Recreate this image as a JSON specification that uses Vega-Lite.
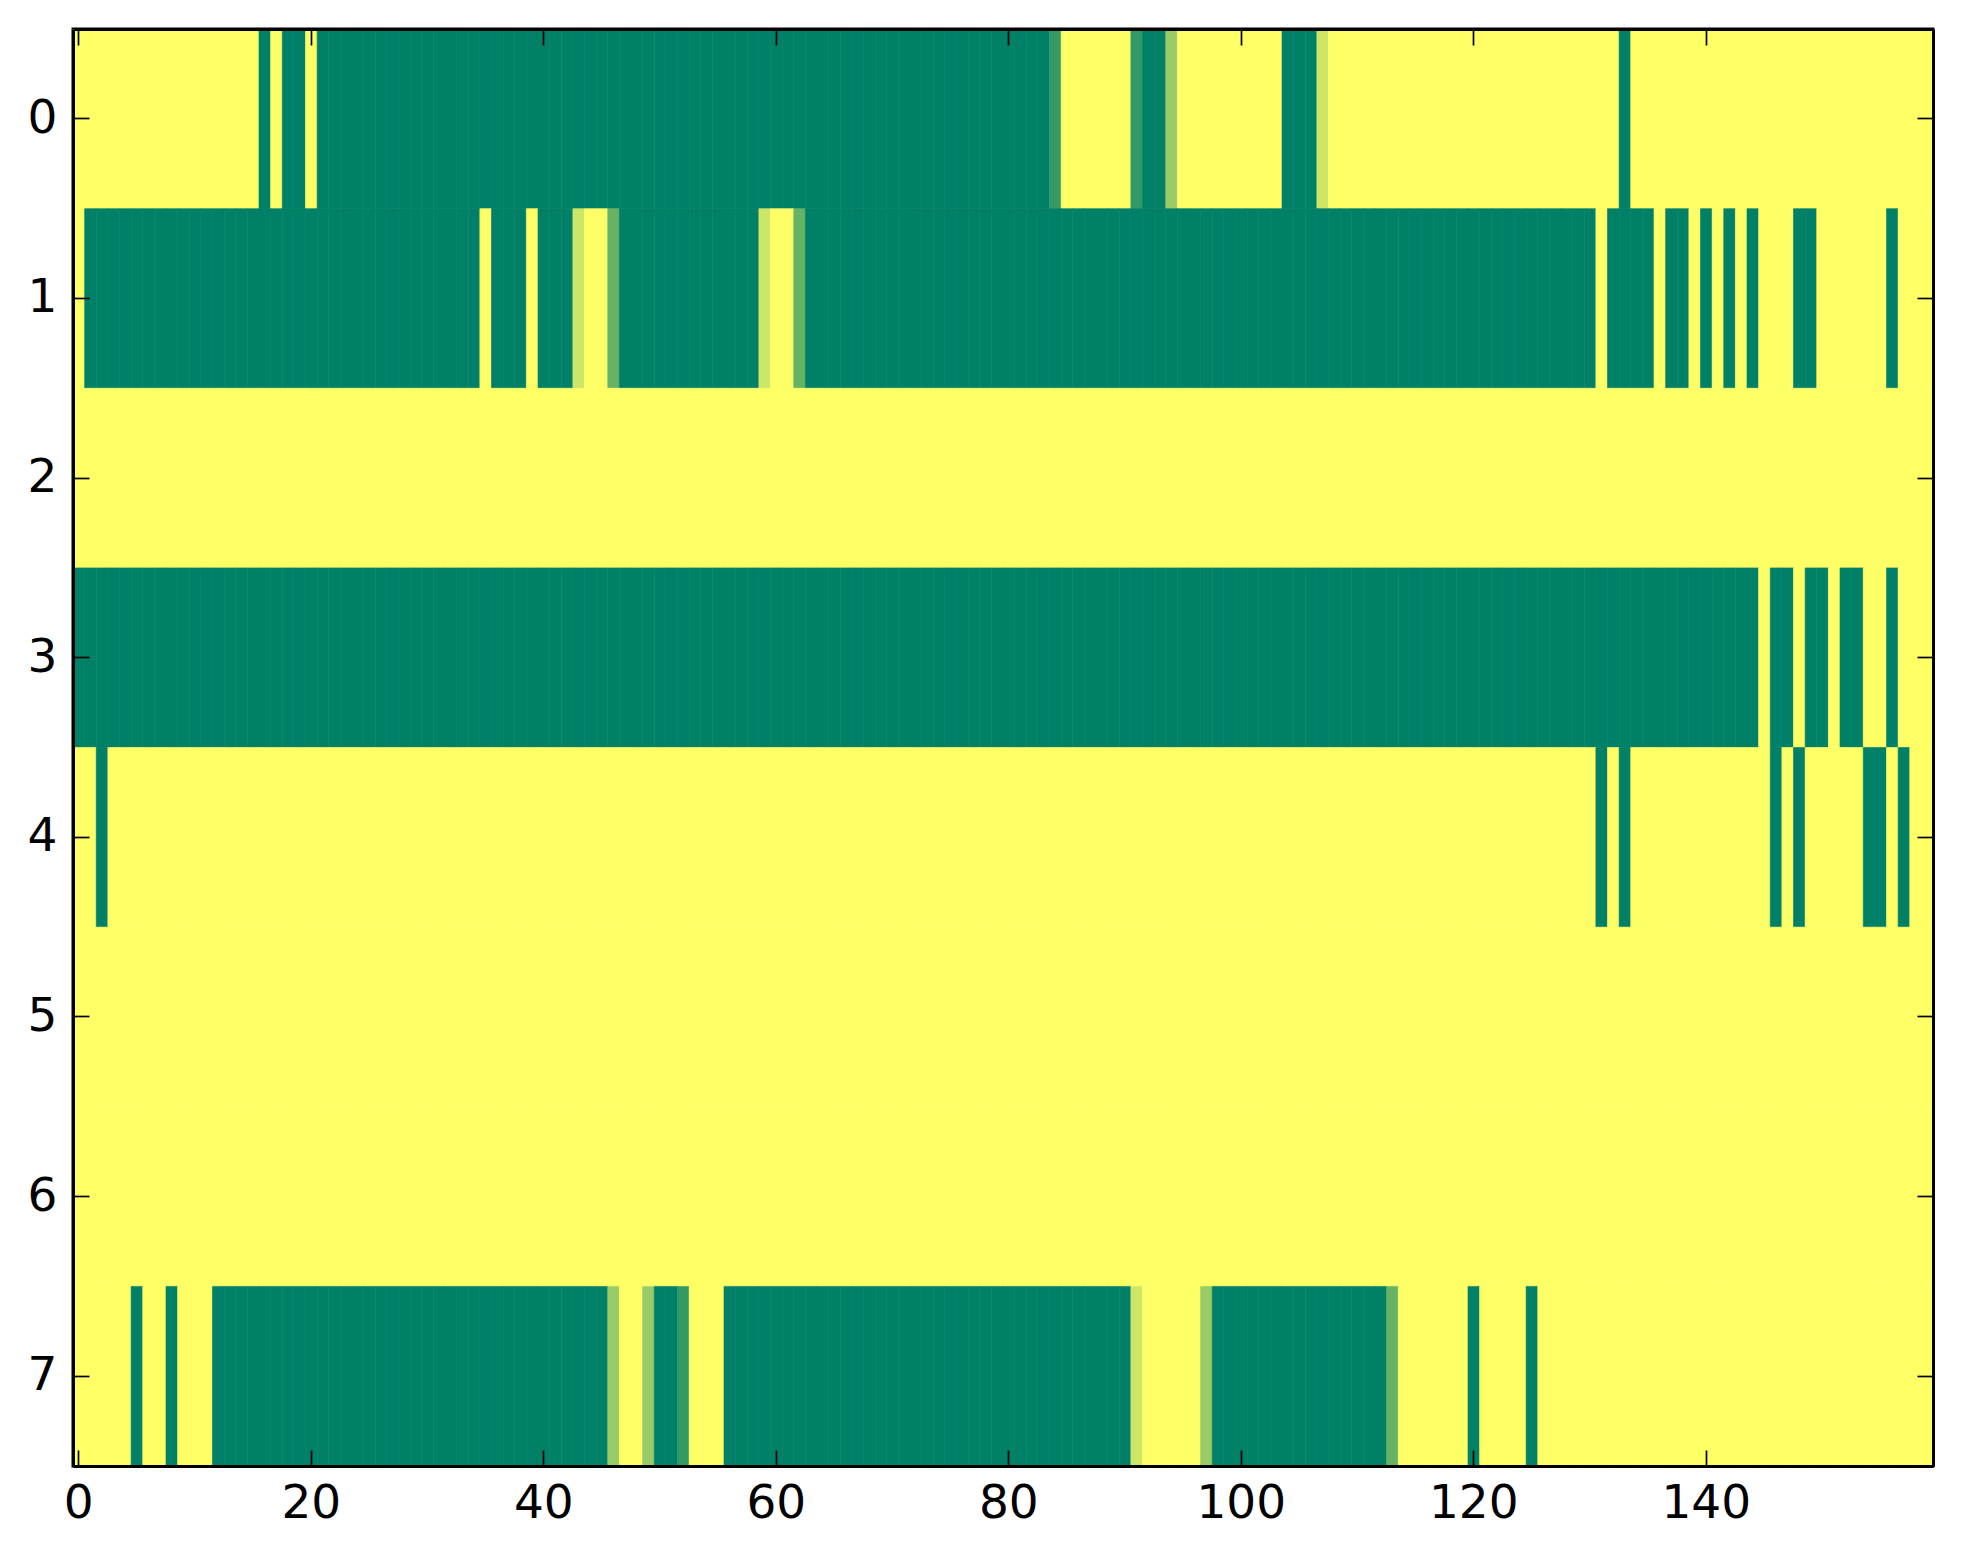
{
  "$schema": "https://vega.github.io/schema/vega-lite/v6.json",
  "width": 1860,
  "height": 1437,
  "autosize": {"type": "none"},
  "padding": {"left": 73, "top": 29, "right": 30, "bottom": 98},
  "background": "white",
  "config": {
    "view": {"stroke": "black", "strokeWidth": 3},
    "axis": {
      "labelFont": "DejaVu Sans",
      "labelFontSize": 47,
      "labelColor": "black",
      "tickColor": "black",
      "tickWidth": 1.7,
      "tickSize": -16,
      "domain": true,
      "domainColor": "black",
      "domainWidth": 3,
      "grid": false,
      "title": null
    }
  },
  "data": {
    "values": [
      {"row":0,"col":0,"value":0},{"row":0,"col":1,"value":0},{"row":0,"col":2,"value":0},{"row":0,"col":3,"value":0},{"row":0,"col":4,"value":0},{"row":0,"col":5,"value":0},{"row":0,"col":6,"value":0},{"row":0,"col":7,"value":0},{"row":0,"col":8,"value":0},{"row":0,"col":9,"value":0},
      {"row":0,"col":10,"value":0},{"row":0,"col":11,"value":0},{"row":0,"col":12,"value":0},{"row":0,"col":13,"value":0},{"row":0,"col":14,"value":0},{"row":0,"col":15,"value":0},{"row":0,"col":16,"value":1},{"row":0,"col":17,"value":0},{"row":0,"col":18,"value":1},{"row":0,"col":19,"value":1},
      {"row":0,"col":20,"value":0},{"row":0,"col":21,"value":1},{"row":0,"col":22,"value":1},{"row":0,"col":23,"value":1},{"row":0,"col":24,"value":1},{"row":0,"col":25,"value":1},{"row":0,"col":26,"value":1},{"row":0,"col":27,"value":1},{"row":0,"col":28,"value":1},{"row":0,"col":29,"value":1},
      {"row":0,"col":30,"value":1},{"row":0,"col":31,"value":1},{"row":0,"col":32,"value":1},{"row":0,"col":33,"value":1},{"row":0,"col":34,"value":1},{"row":0,"col":35,"value":1},{"row":0,"col":36,"value":1},{"row":0,"col":37,"value":1},{"row":0,"col":38,"value":1},{"row":0,"col":39,"value":1},
      {"row":0,"col":40,"value":1},{"row":0,"col":41,"value":1},{"row":0,"col":42,"value":1},{"row":0,"col":43,"value":1},{"row":0,"col":44,"value":1},{"row":0,"col":45,"value":1},{"row":0,"col":46,"value":1},{"row":0,"col":47,"value":1},{"row":0,"col":48,"value":1},{"row":0,"col":49,"value":1},
      {"row":0,"col":50,"value":1},{"row":0,"col":51,"value":1},{"row":0,"col":52,"value":1},{"row":0,"col":53,"value":1},{"row":0,"col":54,"value":1},{"row":0,"col":55,"value":1},{"row":0,"col":56,"value":1},{"row":0,"col":57,"value":1},{"row":0,"col":58,"value":1},{"row":0,"col":59,"value":1},
      {"row":0,"col":60,"value":1},{"row":0,"col":61,"value":1},{"row":0,"col":62,"value":1},{"row":0,"col":63,"value":1},{"row":0,"col":64,"value":1},{"row":0,"col":65,"value":1},{"row":0,"col":66,"value":1},{"row":0,"col":67,"value":1},{"row":0,"col":68,"value":1},{"row":0,"col":69,"value":1},
      {"row":0,"col":70,"value":1},{"row":0,"col":71,"value":1},{"row":0,"col":72,"value":1},{"row":0,"col":73,"value":1},{"row":0,"col":74,"value":1},{"row":0,"col":75,"value":1},{"row":0,"col":76,"value":1},{"row":0,"col":77,"value":1},{"row":0,"col":78,"value":1},{"row":0,"col":79,"value":1},
      {"row":0,"col":80,"value":1},{"row":0,"col":81,"value":1},{"row":0,"col":82,"value":1},{"row":0,"col":83,"value":1},{"row":0,"col":84,"value":0.8},{"row":0,"col":85,"value":0},{"row":0,"col":86,"value":0},{"row":0,"col":87,"value":0},{"row":0,"col":88,"value":0},{"row":0,"col":89,"value":0},
      {"row":0,"col":90,"value":0},{"row":0,"col":91,"value":0.8},{"row":0,"col":92,"value":1},{"row":0,"col":93,"value":1},{"row":0,"col":94,"value":0.4},{"row":0,"col":95,"value":0},{"row":0,"col":96,"value":0},{"row":0,"col":97,"value":0},{"row":0,"col":98,"value":0},{"row":0,"col":99,"value":0},
      {"row":0,"col":100,"value":0},{"row":0,"col":101,"value":0},{"row":0,"col":102,"value":0},{"row":0,"col":103,"value":0},{"row":0,"col":104,"value":1},{"row":0,"col":105,"value":1},{"row":0,"col":106,"value":1},{"row":0,"col":107,"value":0.2},{"row":0,"col":108,"value":0},{"row":0,"col":109,"value":0},
      {"row":0,"col":110,"value":0},{"row":0,"col":111,"value":0},{"row":0,"col":112,"value":0},{"row":0,"col":113,"value":0},{"row":0,"col":114,"value":0},{"row":0,"col":115,"value":0},{"row":0,"col":116,"value":0},{"row":0,"col":117,"value":0},{"row":0,"col":118,"value":0},{"row":0,"col":119,"value":0},
      {"row":0,"col":120,"value":0},{"row":0,"col":121,"value":0},{"row":0,"col":122,"value":0},{"row":0,"col":123,"value":0},{"row":0,"col":124,"value":0},{"row":0,"col":125,"value":0},{"row":0,"col":126,"value":0},{"row":0,"col":127,"value":0},{"row":0,"col":128,"value":0},{"row":0,"col":129,"value":0},
      {"row":0,"col":130,"value":0},{"row":0,"col":131,"value":0},{"row":0,"col":132,"value":0},{"row":0,"col":133,"value":1},{"row":0,"col":134,"value":0},{"row":0,"col":135,"value":0},{"row":0,"col":136,"value":0},{"row":0,"col":137,"value":0},{"row":0,"col":138,"value":0},{"row":0,"col":139,"value":0},
      {"row":0,"col":140,"value":0},{"row":0,"col":141,"value":0},{"row":0,"col":142,"value":0},{"row":0,"col":143,"value":0},{"row":0,"col":144,"value":0},{"row":0,"col":145,"value":0},{"row":0,"col":146,"value":0},{"row":0,"col":147,"value":0},{"row":0,"col":148,"value":0},{"row":0,"col":149,"value":0},
      {"row":0,"col":150,"value":0},{"row":0,"col":151,"value":0},{"row":0,"col":152,"value":0},{"row":0,"col":153,"value":0},{"row":0,"col":154,"value":0},{"row":0,"col":155,"value":0},{"row":0,"col":156,"value":0},{"row":0,"col":157,"value":0},{"row":0,"col":158,"value":0},{"row":0,"col":159,"value":0},

      {"row":1,"col":0,"value":0},{"row":1,"col":1,"value":1},{"row":1,"col":2,"value":1},{"row":1,"col":3,"value":1},{"row":1,"col":4,"value":1},{"row":1,"col":5,"value":1},{"row":1,"col":6,"value":1},{"row":1,"col":7,"value":1},{"row":1,"col":8,"value":1},{"row":1,"col":9,"value":1},
      {"row":1,"col":10,"value":1},{"row":1,"col":11,"value":1},{"row":1,"col":12,"value":1},{"row":1,"col":13,"value":1},{"row":1,"col":14,"value":1},{"row":1,"col":15,"value":1},{"row":1,"col":16,"value":1},{"row":1,"col":17,"value":1},{"row":1,"col":18,"value":1},{"row":1,"col":19,"value":1},
      {"row":1,"col":20,"value":1},{"row":1,"col":21,"value":1},{"row":1,"col":22,"value":1},{"row":1,"col":23,"value":1},{"row":1,"col":24,"value":1},{"row":1,"col":25,"value":1},{"row":1,"col":26,"value":1},{"row":1,"col":27,"value":1},{"row":1,"col":28,"value":1},{"row":1,"col":29,"value":1},
      {"row":1,"col":30,"value":1},{"row":1,"col":31,"value":1},{"row":1,"col":32,"value":1},{"row":1,"col":33,"value":1},{"row":1,"col":34,"value":1},{"row":1,"col":35,"value":0},{"row":1,"col":36,"value":1},{"row":1,"col":37,"value":1},{"row":1,"col":38,"value":1},{"row":1,"col":39,"value":0},
      {"row":1,"col":40,"value":1},{"row":1,"col":41,"value":1},{"row":1,"col":42,"value":1},{"row":1,"col":43,"value":0.2},{"row":1,"col":44,"value":0},{"row":1,"col":45,"value":0},{"row":1,"col":46,"value":0.6},{"row":1,"col":47,"value":1},{"row":1,"col":48,"value":1},{"row":1,"col":49,"value":1},
      {"row":1,"col":50,"value":1},{"row":1,"col":51,"value":1},{"row":1,"col":52,"value":1},{"row":1,"col":53,"value":1},{"row":1,"col":54,"value":1},{"row":1,"col":55,"value":1},{"row":1,"col":56,"value":1},{"row":1,"col":57,"value":1},{"row":1,"col":58,"value":1},{"row":1,"col":59,"value":0.2},
      {"row":1,"col":60,"value":0},{"row":1,"col":61,"value":0},{"row":1,"col":62,"value":0.6},{"row":1,"col":63,"value":1},{"row":1,"col":64,"value":1},{"row":1,"col":65,"value":1},{"row":1,"col":66,"value":1},{"row":1,"col":67,"value":1},{"row":1,"col":68,"value":1},{"row":1,"col":69,"value":1},
      {"row":1,"col":70,"value":1},{"row":1,"col":71,"value":1},{"row":1,"col":72,"value":1},{"row":1,"col":73,"value":1},{"row":1,"col":74,"value":1},{"row":1,"col":75,"value":1},{"row":1,"col":76,"value":1},{"row":1,"col":77,"value":1},{"row":1,"col":78,"value":1},{"row":1,"col":79,"value":1},
      {"row":1,"col":80,"value":1},{"row":1,"col":81,"value":1},{"row":1,"col":82,"value":1},{"row":1,"col":83,"value":1},{"row":1,"col":84,"value":1},{"row":1,"col":85,"value":1},{"row":1,"col":86,"value":1},{"row":1,"col":87,"value":1},{"row":1,"col":88,"value":1},{"row":1,"col":89,"value":1},
      {"row":1,"col":90,"value":1},{"row":1,"col":91,"value":1},{"row":1,"col":92,"value":1},{"row":1,"col":93,"value":1},{"row":1,"col":94,"value":1},{"row":1,"col":95,"value":1},{"row":1,"col":96,"value":1},{"row":1,"col":97,"value":1},{"row":1,"col":98,"value":1},{"row":1,"col":99,"value":1},
      {"row":1,"col":100,"value":1},{"row":1,"col":101,"value":1},{"row":1,"col":102,"value":1},{"row":1,"col":103,"value":1},{"row":1,"col":104,"value":1},{"row":1,"col":105,"value":1},{"row":1,"col":106,"value":1},{"row":1,"col":107,"value":1},{"row":1,"col":108,"value":1},{"row":1,"col":109,"value":1},
      {"row":1,"col":110,"value":1},{"row":1,"col":111,"value":1},{"row":1,"col":112,"value":1},{"row":1,"col":113,"value":1},{"row":1,"col":114,"value":1},{"row":1,"col":115,"value":1},{"row":1,"col":116,"value":1},{"row":1,"col":117,"value":1},{"row":1,"col":118,"value":1},{"row":1,"col":119,"value":1},
      {"row":1,"col":120,"value":1},{"row":1,"col":121,"value":1},{"row":1,"col":122,"value":1},{"row":1,"col":123,"value":1},{"row":1,"col":124,"value":1},{"row":1,"col":125,"value":1},{"row":1,"col":126,"value":1},{"row":1,"col":127,"value":1},{"row":1,"col":128,"value":1},{"row":1,"col":129,"value":1},
      {"row":1,"col":130,"value":1},{"row":1,"col":131,"value":0},{"row":1,"col":132,"value":1},{"row":1,"col":133,"value":1},{"row":1,"col":134,"value":1},{"row":1,"col":135,"value":1},{"row":1,"col":136,"value":0},{"row":1,"col":137,"value":1},{"row":1,"col":138,"value":1},{"row":1,"col":139,"value":0},
      {"row":1,"col":140,"value":1},{"row":1,"col":141,"value":0},{"row":1,"col":142,"value":1},{"row":1,"col":143,"value":0},{"row":1,"col":144,"value":1},{"row":1,"col":145,"value":0},{"row":1,"col":146,"value":0},{"row":1,"col":147,"value":0},{"row":1,"col":148,"value":1},{"row":1,"col":149,"value":1},
      {"row":1,"col":150,"value":0},{"row":1,"col":151,"value":0},{"row":1,"col":152,"value":0},{"row":1,"col":153,"value":0},{"row":1,"col":154,"value":0},{"row":1,"col":155,"value":0},{"row":1,"col":156,"value":1},{"row":1,"col":157,"value":0},{"row":1,"col":158,"value":0},{"row":1,"col":159,"value":0},

      {"row":2,"col":0,"value":0},{"row":2,"col":1,"value":0},{"row":2,"col":2,"value":0},{"row":2,"col":3,"value":0},{"row":2,"col":4,"value":0},{"row":2,"col":5,"value":0},{"row":2,"col":6,"value":0},{"row":2,"col":7,"value":0},{"row":2,"col":8,"value":0},{"row":2,"col":9,"value":0},
      {"row":2,"col":10,"value":0},{"row":2,"col":11,"value":0},{"row":2,"col":12,"value":0},{"row":2,"col":13,"value":0},{"row":2,"col":14,"value":0},{"row":2,"col":15,"value":0},{"row":2,"col":16,"value":0},{"row":2,"col":17,"value":0},{"row":2,"col":18,"value":0},{"row":2,"col":19,"value":0},
      {"row":2,"col":20,"value":0},{"row":2,"col":21,"value":0},{"row":2,"col":22,"value":0},{"row":2,"col":23,"value":0},{"row":2,"col":24,"value":0},{"row":2,"col":25,"value":0},{"row":2,"col":26,"value":0},{"row":2,"col":27,"value":0},{"row":2,"col":28,"value":0},{"row":2,"col":29,"value":0},
      {"row":2,"col":30,"value":0},{"row":2,"col":31,"value":0},{"row":2,"col":32,"value":0},{"row":2,"col":33,"value":0},{"row":2,"col":34,"value":0},{"row":2,"col":35,"value":0},{"row":2,"col":36,"value":0},{"row":2,"col":37,"value":0},{"row":2,"col":38,"value":0},{"row":2,"col":39,"value":0},
      {"row":2,"col":40,"value":0},{"row":2,"col":41,"value":0},{"row":2,"col":42,"value":0},{"row":2,"col":43,"value":0},{"row":2,"col":44,"value":0},{"row":2,"col":45,"value":0},{"row":2,"col":46,"value":0},{"row":2,"col":47,"value":0},{"row":2,"col":48,"value":0},{"row":2,"col":49,"value":0},
      {"row":2,"col":50,"value":0},{"row":2,"col":51,"value":0},{"row":2,"col":52,"value":0},{"row":2,"col":53,"value":0},{"row":2,"col":54,"value":0},{"row":2,"col":55,"value":0},{"row":2,"col":56,"value":0},{"row":2,"col":57,"value":0},{"row":2,"col":58,"value":0},{"row":2,"col":59,"value":0},
      {"row":2,"col":60,"value":0},{"row":2,"col":61,"value":0},{"row":2,"col":62,"value":0},{"row":2,"col":63,"value":0},{"row":2,"col":64,"value":0},{"row":2,"col":65,"value":0},{"row":2,"col":66,"value":0},{"row":2,"col":67,"value":0},{"row":2,"col":68,"value":0},{"row":2,"col":69,"value":0},
      {"row":2,"col":70,"value":0},{"row":2,"col":71,"value":0},{"row":2,"col":72,"value":0},{"row":2,"col":73,"value":0},{"row":2,"col":74,"value":0},{"row":2,"col":75,"value":0},{"row":2,"col":76,"value":0},{"row":2,"col":77,"value":0},{"row":2,"col":78,"value":0},{"row":2,"col":79,"value":0},
      {"row":2,"col":80,"value":0},{"row":2,"col":81,"value":0},{"row":2,"col":82,"value":0},{"row":2,"col":83,"value":0},{"row":2,"col":84,"value":0},{"row":2,"col":85,"value":0},{"row":2,"col":86,"value":0},{"row":2,"col":87,"value":0},{"row":2,"col":88,"value":0},{"row":2,"col":89,"value":0},
      {"row":2,"col":90,"value":0},{"row":2,"col":91,"value":0},{"row":2,"col":92,"value":0},{"row":2,"col":93,"value":0},{"row":2,"col":94,"value":0},{"row":2,"col":95,"value":0},{"row":2,"col":96,"value":0},{"row":2,"col":97,"value":0},{"row":2,"col":98,"value":0},{"row":2,"col":99,"value":0},
      {"row":2,"col":100,"value":0},{"row":2,"col":101,"value":0},{"row":2,"col":102,"value":0},{"row":2,"col":103,"value":0},{"row":2,"col":104,"value":0},{"row":2,"col":105,"value":0},{"row":2,"col":106,"value":0},{"row":2,"col":107,"value":0},{"row":2,"col":108,"value":0},{"row":2,"col":109,"value":0},
      {"row":2,"col":110,"value":0},{"row":2,"col":111,"value":0},{"row":2,"col":112,"value":0},{"row":2,"col":113,"value":0},{"row":2,"col":114,"value":0},{"row":2,"col":115,"value":0},{"row":2,"col":116,"value":0},{"row":2,"col":117,"value":0},{"row":2,"col":118,"value":0},{"row":2,"col":119,"value":0},
      {"row":2,"col":120,"value":0},{"row":2,"col":121,"value":0},{"row":2,"col":122,"value":0},{"row":2,"col":123,"value":0},{"row":2,"col":124,"value":0},{"row":2,"col":125,"value":0},{"row":2,"col":126,"value":0},{"row":2,"col":127,"value":0},{"row":2,"col":128,"value":0},{"row":2,"col":129,"value":0},
      {"row":2,"col":130,"value":0},{"row":2,"col":131,"value":0},{"row":2,"col":132,"value":0},{"row":2,"col":133,"value":0},{"row":2,"col":134,"value":0},{"row":2,"col":135,"value":0},{"row":2,"col":136,"value":0},{"row":2,"col":137,"value":0},{"row":2,"col":138,"value":0},{"row":2,"col":139,"value":0},
      {"row":2,"col":140,"value":0},{"row":2,"col":141,"value":0},{"row":2,"col":142,"value":0},{"row":2,"col":143,"value":0},{"row":2,"col":144,"value":0},{"row":2,"col":145,"value":0},{"row":2,"col":146,"value":0},{"row":2,"col":147,"value":0},{"row":2,"col":148,"value":0},{"row":2,"col":149,"value":0},
      {"row":2,"col":150,"value":0},{"row":2,"col":151,"value":0},{"row":2,"col":152,"value":0},{"row":2,"col":153,"value":0},{"row":2,"col":154,"value":0},{"row":2,"col":155,"value":0},{"row":2,"col":156,"value":0},{"row":2,"col":157,"value":0},{"row":2,"col":158,"value":0},{"row":2,"col":159,"value":0},

      {"row":3,"col":0,"value":1},{"row":3,"col":1,"value":1},{"row":3,"col":2,"value":1},{"row":3,"col":3,"value":1},{"row":3,"col":4,"value":1},{"row":3,"col":5,"value":1},{"row":3,"col":6,"value":1},{"row":3,"col":7,"value":1},{"row":3,"col":8,"value":1},{"row":3,"col":9,"value":1},
      {"row":3,"col":10,"value":1},{"row":3,"col":11,"value":1},{"row":3,"col":12,"value":1},{"row":3,"col":13,"value":1},{"row":3,"col":14,"value":1},{"row":3,"col":15,"value":1},{"row":3,"col":16,"value":1},{"row":3,"col":17,"value":1},{"row":3,"col":18,"value":1},{"row":3,"col":19,"value":1},
      {"row":3,"col":20,"value":1},{"row":3,"col":21,"value":1},{"row":3,"col":22,"value":1},{"row":3,"col":23,"value":1},{"row":3,"col":24,"value":1},{"row":3,"col":25,"value":1},{"row":3,"col":26,"value":1},{"row":3,"col":27,"value":1},{"row":3,"col":28,"value":1},{"row":3,"col":29,"value":1},
      {"row":3,"col":30,"value":1},{"row":3,"col":31,"value":1},{"row":3,"col":32,"value":1},{"row":3,"col":33,"value":1},{"row":3,"col":34,"value":1},{"row":3,"col":35,"value":1},{"row":3,"col":36,"value":1},{"row":3,"col":37,"value":1},{"row":3,"col":38,"value":1},{"row":3,"col":39,"value":1},
      {"row":3,"col":40,"value":1},{"row":3,"col":41,"value":1},{"row":3,"col":42,"value":1},{"row":3,"col":43,"value":1},{"row":3,"col":44,"value":1},{"row":3,"col":45,"value":1},{"row":3,"col":46,"value":1},{"row":3,"col":47,"value":1},{"row":3,"col":48,"value":1},{"row":3,"col":49,"value":1},
      {"row":3,"col":50,"value":1},{"row":3,"col":51,"value":1},{"row":3,"col":52,"value":1},{"row":3,"col":53,"value":1},{"row":3,"col":54,"value":1},{"row":3,"col":55,"value":1},{"row":3,"col":56,"value":1},{"row":3,"col":57,"value":1},{"row":3,"col":58,"value":1},{"row":3,"col":59,"value":1},
      {"row":3,"col":60,"value":1},{"row":3,"col":61,"value":1},{"row":3,"col":62,"value":1},{"row":3,"col":63,"value":1},{"row":3,"col":64,"value":1},{"row":3,"col":65,"value":1},{"row":3,"col":66,"value":1},{"row":3,"col":67,"value":1},{"row":3,"col":68,"value":1},{"row":3,"col":69,"value":1},
      {"row":3,"col":70,"value":1},{"row":3,"col":71,"value":1},{"row":3,"col":72,"value":1},{"row":3,"col":73,"value":1},{"row":3,"col":74,"value":1},{"row":3,"col":75,"value":1},{"row":3,"col":76,"value":1},{"row":3,"col":77,"value":1},{"row":3,"col":78,"value":1},{"row":3,"col":79,"value":1},
      {"row":3,"col":80,"value":1},{"row":3,"col":81,"value":1},{"row":3,"col":82,"value":1},{"row":3,"col":83,"value":1},{"row":3,"col":84,"value":1},{"row":3,"col":85,"value":1},{"row":3,"col":86,"value":1},{"row":3,"col":87,"value":1},{"row":3,"col":88,"value":1},{"row":3,"col":89,"value":1},
      {"row":3,"col":90,"value":1},{"row":3,"col":91,"value":1},{"row":3,"col":92,"value":1},{"row":3,"col":93,"value":1},{"row":3,"col":94,"value":1},{"row":3,"col":95,"value":1},{"row":3,"col":96,"value":1},{"row":3,"col":97,"value":1},{"row":3,"col":98,"value":1},{"row":3,"col":99,"value":1},
      {"row":3,"col":100,"value":1},{"row":3,"col":101,"value":1},{"row":3,"col":102,"value":1},{"row":3,"col":103,"value":1},{"row":3,"col":104,"value":1},{"row":3,"col":105,"value":1},{"row":3,"col":106,"value":1},{"row":3,"col":107,"value":1},{"row":3,"col":108,"value":1},{"row":3,"col":109,"value":1},
      {"row":3,"col":110,"value":1},{"row":3,"col":111,"value":1},{"row":3,"col":112,"value":1},{"row":3,"col":113,"value":1},{"row":3,"col":114,"value":1},{"row":3,"col":115,"value":1},{"row":3,"col":116,"value":1},{"row":3,"col":117,"value":1},{"row":3,"col":118,"value":1},{"row":3,"col":119,"value":1},
      {"row":3,"col":120,"value":1},{"row":3,"col":121,"value":1},{"row":3,"col":122,"value":1},{"row":3,"col":123,"value":1},{"row":3,"col":124,"value":1},{"row":3,"col":125,"value":1},{"row":3,"col":126,"value":1},{"row":3,"col":127,"value":1},{"row":3,"col":128,"value":1},{"row":3,"col":129,"value":1},
      {"row":3,"col":130,"value":1},{"row":3,"col":131,"value":1},{"row":3,"col":132,"value":1},{"row":3,"col":133,"value":1},{"row":3,"col":134,"value":1},{"row":3,"col":135,"value":1},{"row":3,"col":136,"value":1},{"row":3,"col":137,"value":1},{"row":3,"col":138,"value":1},{"row":3,"col":139,"value":1},
      {"row":3,"col":140,"value":1},{"row":3,"col":141,"value":1},{"row":3,"col":142,"value":1},{"row":3,"col":143,"value":1},{"row":3,"col":144,"value":1},{"row":3,"col":145,"value":0},{"row":3,"col":146,"value":1},{"row":3,"col":147,"value":1},{"row":3,"col":148,"value":0},{"row":3,"col":149,"value":1},
      {"row":3,"col":150,"value":1},{"row":3,"col":151,"value":0},{"row":3,"col":152,"value":1},{"row":3,"col":153,"value":1},{"row":3,"col":154,"value":0},{"row":3,"col":155,"value":0},{"row":3,"col":156,"value":1},{"row":3,"col":157,"value":0},{"row":3,"col":158,"value":0},{"row":3,"col":159,"value":0},

      {"row":4,"col":0,"value":0},{"row":4,"col":1,"value":0},{"row":4,"col":2,"value":1},{"row":4,"col":3,"value":0},{"row":4,"col":4,"value":0},{"row":4,"col":5,"value":0},{"row":4,"col":6,"value":0},{"row":4,"col":7,"value":0},{"row":4,"col":8,"value":0},{"row":4,"col":9,"value":0},
      {"row":4,"col":10,"value":0},{"row":4,"col":11,"value":0},{"row":4,"col":12,"value":0},{"row":4,"col":13,"value":0},{"row":4,"col":14,"value":0},{"row":4,"col":15,"value":0},{"row":4,"col":16,"value":0},{"row":4,"col":17,"value":0},{"row":4,"col":18,"value":0},{"row":4,"col":19,"value":0},
      {"row":4,"col":20,"value":0},{"row":4,"col":21,"value":0},{"row":4,"col":22,"value":0},{"row":4,"col":23,"value":0},{"row":4,"col":24,"value":0},{"row":4,"col":25,"value":0},{"row":4,"col":26,"value":0},{"row":4,"col":27,"value":0},{"row":4,"col":28,"value":0},{"row":4,"col":29,"value":0},
      {"row":4,"col":30,"value":0},{"row":4,"col":31,"value":0},{"row":4,"col":32,"value":0},{"row":4,"col":33,"value":0},{"row":4,"col":34,"value":0},{"row":4,"col":35,"value":0},{"row":4,"col":36,"value":0},{"row":4,"col":37,"value":0},{"row":4,"col":38,"value":0},{"row":4,"col":39,"value":0},
      {"row":4,"col":40,"value":0},{"row":4,"col":41,"value":0},{"row":4,"col":42,"value":0},{"row":4,"col":43,"value":0},{"row":4,"col":44,"value":0},{"row":4,"col":45,"value":0},{"row":4,"col":46,"value":0},{"row":4,"col":47,"value":0},{"row":4,"col":48,"value":0},{"row":4,"col":49,"value":0},
      {"row":4,"col":50,"value":0},{"row":4,"col":51,"value":0},{"row":4,"col":52,"value":0},{"row":4,"col":53,"value":0},{"row":4,"col":54,"value":0},{"row":4,"col":55,"value":0},{"row":4,"col":56,"value":0},{"row":4,"col":57,"value":0},{"row":4,"col":58,"value":0},{"row":4,"col":59,"value":0},
      {"row":4,"col":60,"value":0},{"row":4,"col":61,"value":0},{"row":4,"col":62,"value":0},{"row":4,"col":63,"value":0},{"row":4,"col":64,"value":0},{"row":4,"col":65,"value":0},{"row":4,"col":66,"value":0},{"row":4,"col":67,"value":0},{"row":4,"col":68,"value":0},{"row":4,"col":69,"value":0},
      {"row":4,"col":70,"value":0},{"row":4,"col":71,"value":0},{"row":4,"col":72,"value":0},{"row":4,"col":73,"value":0},{"row":4,"col":74,"value":0},{"row":4,"col":75,"value":0},{"row":4,"col":76,"value":0},{"row":4,"col":77,"value":0},{"row":4,"col":78,"value":0},{"row":4,"col":79,"value":0},
      {"row":4,"col":80,"value":0},{"row":4,"col":81,"value":0},{"row":4,"col":82,"value":0},{"row":4,"col":83,"value":0},{"row":4,"col":84,"value":0},{"row":4,"col":85,"value":0},{"row":4,"col":86,"value":0},{"row":4,"col":87,"value":0},{"row":4,"col":88,"value":0},{"row":4,"col":89,"value":0},
      {"row":4,"col":90,"value":0},{"row":4,"col":91,"value":0},{"row":4,"col":92,"value":0},{"row":4,"col":93,"value":0},{"row":4,"col":94,"value":0},{"row":4,"col":95,"value":0},{"row":4,"col":96,"value":0},{"row":4,"col":97,"value":0},{"row":4,"col":98,"value":0},{"row":4,"col":99,"value":0},
      {"row":4,"col":100,"value":0},{"row":4,"col":101,"value":0},{"row":4,"col":102,"value":0},{"row":4,"col":103,"value":0},{"row":4,"col":104,"value":0},{"row":4,"col":105,"value":0},{"row":4,"col":106,"value":0},{"row":4,"col":107,"value":0},{"row":4,"col":108,"value":0},{"row":4,"col":109,"value":0},
      {"row":4,"col":110,"value":0},{"row":4,"col":111,"value":0},{"row":4,"col":112,"value":0},{"row":4,"col":113,"value":0},{"row":4,"col":114,"value":0},{"row":4,"col":115,"value":0},{"row":4,"col":116,"value":0},{"row":4,"col":117,"value":0},{"row":4,"col":118,"value":0},{"row":4,"col":119,"value":0},
      {"row":4,"col":120,"value":0},{"row":4,"col":121,"value":0},{"row":4,"col":122,"value":0},{"row":4,"col":123,"value":0},{"row":4,"col":124,"value":0},{"row":4,"col":125,"value":0},{"row":4,"col":126,"value":0},{"row":4,"col":127,"value":0},{"row":4,"col":128,"value":0},{"row":4,"col":129,"value":0},
      {"row":4,"col":130,"value":0},{"row":4,"col":131,"value":1},{"row":4,"col":132,"value":0},{"row":4,"col":133,"value":1},{"row":4,"col":134,"value":0},{"row":4,"col":135,"value":0},{"row":4,"col":136,"value":0},{"row":4,"col":137,"value":0},{"row":4,"col":138,"value":0},{"row":4,"col":139,"value":0},
      {"row":4,"col":140,"value":0},{"row":4,"col":141,"value":0},{"row":4,"col":142,"value":0},{"row":4,"col":143,"value":0},{"row":4,"col":144,"value":0},{"row":4,"col":145,"value":0},{"row":4,"col":146,"value":1},{"row":4,"col":147,"value":0},{"row":4,"col":148,"value":1},{"row":4,"col":149,"value":0},
      {"row":4,"col":150,"value":0},{"row":4,"col":151,"value":0},{"row":4,"col":152,"value":0},{"row":4,"col":153,"value":0},{"row":4,"col":154,"value":1},{"row":4,"col":155,"value":1},{"row":4,"col":156,"value":0},{"row":4,"col":157,"value":1},{"row":4,"col":158,"value":0},{"row":4,"col":159,"value":0},

      {"row":5,"col":0,"value":0},{"row":5,"col":1,"value":0},{"row":5,"col":2,"value":0},{"row":5,"col":3,"value":0},{"row":5,"col":4,"value":0},{"row":5,"col":5,"value":0},{"row":5,"col":6,"value":0},{"row":5,"col":7,"value":0},{"row":5,"col":8,"value":0},{"row":5,"col":9,"value":0},
      {"row":5,"col":10,"value":0},{"row":5,"col":11,"value":0},{"row":5,"col":12,"value":0},{"row":5,"col":13,"value":0},{"row":5,"col":14,"value":0},{"row":5,"col":15,"value":0},{"row":5,"col":16,"value":0},{"row":5,"col":17,"value":0},{"row":5,"col":18,"value":0},{"row":5,"col":19,"value":0},
      {"row":5,"col":20,"value":0},{"row":5,"col":21,"value":0},{"row":5,"col":22,"value":0},{"row":5,"col":23,"value":0},{"row":5,"col":24,"value":0},{"row":5,"col":25,"value":0},{"row":5,"col":26,"value":0},{"row":5,"col":27,"value":0},{"row":5,"col":28,"value":0},{"row":5,"col":29,"value":0},
      {"row":5,"col":30,"value":0},{"row":5,"col":31,"value":0},{"row":5,"col":32,"value":0},{"row":5,"col":33,"value":0},{"row":5,"col":34,"value":0},{"row":5,"col":35,"value":0},{"row":5,"col":36,"value":0},{"row":5,"col":37,"value":0},{"row":5,"col":38,"value":0},{"row":5,"col":39,"value":0},
      {"row":5,"col":40,"value":0},{"row":5,"col":41,"value":0},{"row":5,"col":42,"value":0},{"row":5,"col":43,"value":0},{"row":5,"col":44,"value":0},{"row":5,"col":45,"value":0},{"row":5,"col":46,"value":0},{"row":5,"col":47,"value":0},{"row":5,"col":48,"value":0},{"row":5,"col":49,"value":0},
      {"row":5,"col":50,"value":0},{"row":5,"col":51,"value":0},{"row":5,"col":52,"value":0},{"row":5,"col":53,"value":0},{"row":5,"col":54,"value":0},{"row":5,"col":55,"value":0},{"row":5,"col":56,"value":0},{"row":5,"col":57,"value":0},{"row":5,"col":58,"value":0},{"row":5,"col":59,"value":0},
      {"row":5,"col":60,"value":0},{"row":5,"col":61,"value":0},{"row":5,"col":62,"value":0},{"row":5,"col":63,"value":0},{"row":5,"col":64,"value":0},{"row":5,"col":65,"value":0},{"row":5,"col":66,"value":0},{"row":5,"col":67,"value":0},{"row":5,"col":68,"value":0},{"row":5,"col":69,"value":0},
      {"row":5,"col":70,"value":0},{"row":5,"col":71,"value":0},{"row":5,"col":72,"value":0},{"row":5,"col":73,"value":0},{"row":5,"col":74,"value":0},{"row":5,"col":75,"value":0},{"row":5,"col":76,"value":0},{"row":5,"col":77,"value":0},{"row":5,"col":78,"value":0},{"row":5,"col":79,"value":0},
      {"row":5,"col":80,"value":0},{"row":5,"col":81,"value":0},{"row":5,"col":82,"value":0},{"row":5,"col":83,"value":0},{"row":5,"col":84,"value":0},{"row":5,"col":85,"value":0},{"row":5,"col":86,"value":0},{"row":5,"col":87,"value":0},{"row":5,"col":88,"value":0},{"row":5,"col":89,"value":0},
      {"row":5,"col":90,"value":0},{"row":5,"col":91,"value":0},{"row":5,"col":92,"value":0},{"row":5,"col":93,"value":0},{"row":5,"col":94,"value":0},{"row":5,"col":95,"value":0},{"row":5,"col":96,"value":0},{"row":5,"col":97,"value":0},{"row":5,"col":98,"value":0},{"row":5,"col":99,"value":0},
      {"row":5,"col":100,"value":0},{"row":5,"col":101,"value":0},{"row":5,"col":102,"value":0},{"row":5,"col":103,"value":0},{"row":5,"col":104,"value":0},{"row":5,"col":105,"value":0},{"row":5,"col":106,"value":0},{"row":5,"col":107,"value":0},{"row":5,"col":108,"value":0},{"row":5,"col":109,"value":0},
      {"row":5,"col":110,"value":0},{"row":5,"col":111,"value":0},{"row":5,"col":112,"value":0},{"row":5,"col":113,"value":0},{"row":5,"col":114,"value":0},{"row":5,"col":115,"value":0},{"row":5,"col":116,"value":0},{"row":5,"col":117,"value":0},{"row":5,"col":118,"value":0},{"row":5,"col":119,"value":0},
      {"row":5,"col":120,"value":0},{"row":5,"col":121,"value":0},{"row":5,"col":122,"value":0},{"row":5,"col":123,"value":0},{"row":5,"col":124,"value":0},{"row":5,"col":125,"value":0},{"row":5,"col":126,"value":0},{"row":5,"col":127,"value":0},{"row":5,"col":128,"value":0},{"row":5,"col":129,"value":0},
      {"row":5,"col":130,"value":0},{"row":5,"col":131,"value":0},{"row":5,"col":132,"value":0},{"row":5,"col":133,"value":0},{"row":5,"col":134,"value":0},{"row":5,"col":135,"value":0},{"row":5,"col":136,"value":0},{"row":5,"col":137,"value":0},{"row":5,"col":138,"value":0},{"row":5,"col":139,"value":0},
      {"row":5,"col":140,"value":0},{"row":5,"col":141,"value":0},{"row":5,"col":142,"value":0},{"row":5,"col":143,"value":0},{"row":5,"col":144,"value":0},{"row":5,"col":145,"value":0},{"row":5,"col":146,"value":0},{"row":5,"col":147,"value":0},{"row":5,"col":148,"value":0},{"row":5,"col":149,"value":0},
      {"row":5,"col":150,"value":0},{"row":5,"col":151,"value":0},{"row":5,"col":152,"value":0},{"row":5,"col":153,"value":0},{"row":5,"col":154,"value":0},{"row":5,"col":155,"value":0},{"row":5,"col":156,"value":0},{"row":5,"col":157,"value":0},{"row":5,"col":158,"value":0},{"row":5,"col":159,"value":0},

      {"row":6,"col":0,"value":0},{"row":6,"col":1,"value":0},{"row":6,"col":2,"value":0},{"row":6,"col":3,"value":0},{"row":6,"col":4,"value":0},{"row":6,"col":5,"value":0},{"row":6,"col":6,"value":0},{"row":6,"col":7,"value":0},{"row":6,"col":8,"value":0},{"row":6,"col":9,"value":0},
      {"row":6,"col":10,"value":0},{"row":6,"col":11,"value":0},{"row":6,"col":12,"value":0},{"row":6,"col":13,"value":0},{"row":6,"col":14,"value":0},{"row":6,"col":15,"value":0},{"row":6,"col":16,"value":0},{"row":6,"col":17,"value":0},{"row":6,"col":18,"value":0},{"row":6,"col":19,"value":0},
      {"row":6,"col":20,"value":0},{"row":6,"col":21,"value":0},{"row":6,"col":22,"value":0},{"row":6,"col":23,"value":0},{"row":6,"col":24,"value":0},{"row":6,"col":25,"value":0},{"row":6,"col":26,"value":0},{"row":6,"col":27,"value":0},{"row":6,"col":28,"value":0},{"row":6,"col":29,"value":0},
      {"row":6,"col":30,"value":0},{"row":6,"col":31,"value":0},{"row":6,"col":32,"value":0},{"row":6,"col":33,"value":0},{"row":6,"col":34,"value":0},{"row":6,"col":35,"value":0},{"row":6,"col":36,"value":0},{"row":6,"col":37,"value":0},{"row":6,"col":38,"value":0},{"row":6,"col":39,"value":0},
      {"row":6,"col":40,"value":0},{"row":6,"col":41,"value":0},{"row":6,"col":42,"value":0},{"row":6,"col":43,"value":0},{"row":6,"col":44,"value":0},{"row":6,"col":45,"value":0},{"row":6,"col":46,"value":0},{"row":6,"col":47,"value":0},{"row":6,"col":48,"value":0},{"row":6,"col":49,"value":0},
      {"row":6,"col":50,"value":0},{"row":6,"col":51,"value":0},{"row":6,"col":52,"value":0},{"row":6,"col":53,"value":0},{"row":6,"col":54,"value":0},{"row":6,"col":55,"value":0},{"row":6,"col":56,"value":0},{"row":6,"col":57,"value":0},{"row":6,"col":58,"value":0},{"row":6,"col":59,"value":0},
      {"row":6,"col":60,"value":0},{"row":6,"col":61,"value":0},{"row":6,"col":62,"value":0},{"row":6,"col":63,"value":0},{"row":6,"col":64,"value":0},{"row":6,"col":65,"value":0},{"row":6,"col":66,"value":0},{"row":6,"col":67,"value":0},{"row":6,"col":68,"value":0},{"row":6,"col":69,"value":0},
      {"row":6,"col":70,"value":0},{"row":6,"col":71,"value":0},{"row":6,"col":72,"value":0},{"row":6,"col":73,"value":0},{"row":6,"col":74,"value":0},{"row":6,"col":75,"value":0},{"row":6,"col":76,"value":0},{"row":6,"col":77,"value":0},{"row":6,"col":78,"value":0},{"row":6,"col":79,"value":0},
      {"row":6,"col":80,"value":0},{"row":6,"col":81,"value":0},{"row":6,"col":82,"value":0},{"row":6,"col":83,"value":0},{"row":6,"col":84,"value":0},{"row":6,"col":85,"value":0},{"row":6,"col":86,"value":0},{"row":6,"col":87,"value":0},{"row":6,"col":88,"value":0},{"row":6,"col":89,"value":0},
      {"row":6,"col":90,"value":0},{"row":6,"col":91,"value":0},{"row":6,"col":92,"value":0},{"row":6,"col":93,"value":0},{"row":6,"col":94,"value":0},{"row":6,"col":95,"value":0},{"row":6,"col":96,"value":0},{"row":6,"col":97,"value":0},{"row":6,"col":98,"value":0},{"row":6,"col":99,"value":0},
      {"row":6,"col":100,"value":0},{"row":6,"col":101,"value":0},{"row":6,"col":102,"value":0},{"row":6,"col":103,"value":0},{"row":6,"col":104,"value":0},{"row":6,"col":105,"value":0},{"row":6,"col":106,"value":0},{"row":6,"col":107,"value":0},{"row":6,"col":108,"value":0},{"row":6,"col":109,"value":0},
      {"row":6,"col":110,"value":0},{"row":6,"col":111,"value":0},{"row":6,"col":112,"value":0},{"row":6,"col":113,"value":0},{"row":6,"col":114,"value":0},{"row":6,"col":115,"value":0},{"row":6,"col":116,"value":0},{"row":6,"col":117,"value":0},{"row":6,"col":118,"value":0},{"row":6,"col":119,"value":0},
      {"row":6,"col":120,"value":0},{"row":6,"col":121,"value":0},{"row":6,"col":122,"value":0},{"row":6,"col":123,"value":0},{"row":6,"col":124,"value":0},{"row":6,"col":125,"value":0},{"row":6,"col":126,"value":0},{"row":6,"col":127,"value":0},{"row":6,"col":128,"value":0},{"row":6,"col":129,"value":0},
      {"row":6,"col":130,"value":0},{"row":6,"col":131,"value":0},{"row":6,"col":132,"value":0},{"row":6,"col":133,"value":0},{"row":6,"col":134,"value":0},{"row":6,"col":135,"value":0},{"row":6,"col":136,"value":0},{"row":6,"col":137,"value":0},{"row":6,"col":138,"value":0},{"row":6,"col":139,"value":0},
      {"row":6,"col":140,"value":0},{"row":6,"col":141,"value":0},{"row":6,"col":142,"value":0},{"row":6,"col":143,"value":0},{"row":6,"col":144,"value":0},{"row":6,"col":145,"value":0},{"row":6,"col":146,"value":0},{"row":6,"col":147,"value":0},{"row":6,"col":148,"value":0},{"row":6,"col":149,"value":0},
      {"row":6,"col":150,"value":0},{"row":6,"col":151,"value":0},{"row":6,"col":152,"value":0},{"row":6,"col":153,"value":0},{"row":6,"col":154,"value":0},{"row":6,"col":155,"value":0},{"row":6,"col":156,"value":0},{"row":6,"col":157,"value":0},{"row":6,"col":158,"value":0},{"row":6,"col":159,"value":0},

      {"row":7,"col":0,"value":0},{"row":7,"col":1,"value":0},{"row":7,"col":2,"value":0},{"row":7,"col":3,"value":0},{"row":7,"col":4,"value":0},{"row":7,"col":5,"value":1},{"row":7,"col":6,"value":0},{"row":7,"col":7,"value":0},{"row":7,"col":8,"value":1},{"row":7,"col":9,"value":0},
      {"row":7,"col":10,"value":0},{"row":7,"col":11,"value":0},{"row":7,"col":12,"value":1},{"row":7,"col":13,"value":1},{"row":7,"col":14,"value":1},{"row":7,"col":15,"value":1},{"row":7,"col":16,"value":1},{"row":7,"col":17,"value":1},{"row":7,"col":18,"value":1},{"row":7,"col":19,"value":1},
      {"row":7,"col":20,"value":1},{"row":7,"col":21,"value":1},{"row":7,"col":22,"value":1},{"row":7,"col":23,"value":1},{"row":7,"col":24,"value":1},{"row":7,"col":25,"value":1},{"row":7,"col":26,"value":1},{"row":7,"col":27,"value":1},{"row":7,"col":28,"value":1},{"row":7,"col":29,"value":1},
      {"row":7,"col":30,"value":1},{"row":7,"col":31,"value":1},{"row":7,"col":32,"value":1},{"row":7,"col":33,"value":1},{"row":7,"col":34,"value":1},{"row":7,"col":35,"value":1},{"row":7,"col":36,"value":1},{"row":7,"col":37,"value":1},{"row":7,"col":38,"value":1},{"row":7,"col":39,"value":1},
      {"row":7,"col":40,"value":1},{"row":7,"col":41,"value":1},{"row":7,"col":42,"value":1},{"row":7,"col":43,"value":1},{"row":7,"col":44,"value":1},{"row":7,"col":45,"value":1},{"row":7,"col":46,"value":0.4},{"row":7,"col":47,"value":0},{"row":7,"col":48,"value":0},{"row":7,"col":49,"value":0.4},
      {"row":7,"col":50,"value":1},{"row":7,"col":51,"value":1},{"row":7,"col":52,"value":0.8},{"row":7,"col":53,"value":0},{"row":7,"col":54,"value":0},{"row":7,"col":55,"value":0},{"row":7,"col":56,"value":1},{"row":7,"col":57,"value":1},{"row":7,"col":58,"value":1},{"row":7,"col":59,"value":1},
      {"row":7,"col":60,"value":1},{"row":7,"col":61,"value":1},{"row":7,"col":62,"value":1},{"row":7,"col":63,"value":1},{"row":7,"col":64,"value":1},{"row":7,"col":65,"value":1},{"row":7,"col":66,"value":1},{"row":7,"col":67,"value":1},{"row":7,"col":68,"value":1},{"row":7,"col":69,"value":1},
      {"row":7,"col":70,"value":1},{"row":7,"col":71,"value":1},{"row":7,"col":72,"value":1},{"row":7,"col":73,"value":1},{"row":7,"col":74,"value":1},{"row":7,"col":75,"value":1},{"row":7,"col":76,"value":1},{"row":7,"col":77,"value":1},{"row":7,"col":78,"value":1},{"row":7,"col":79,"value":1},
      {"row":7,"col":80,"value":1},{"row":7,"col":81,"value":1},{"row":7,"col":82,"value":1},{"row":7,"col":83,"value":1},{"row":7,"col":84,"value":1},{"row":7,"col":85,"value":1},{"row":7,"col":86,"value":1},{"row":7,"col":87,"value":1},{"row":7,"col":88,"value":1},{"row":7,"col":89,"value":1},
      {"row":7,"col":90,"value":1},{"row":7,"col":91,"value":0.2},{"row":7,"col":92,"value":0},{"row":7,"col":93,"value":0},{"row":7,"col":94,"value":0},{"row":7,"col":95,"value":0},{"row":7,"col":96,"value":0},{"row":7,"col":97,"value":0.4},{"row":7,"col":98,"value":1},{"row":7,"col":99,"value":1},
      {"row":7,"col":100,"value":1},{"row":7,"col":101,"value":1},{"row":7,"col":102,"value":1},{"row":7,"col":103,"value":1},{"row":7,"col":104,"value":1},{"row":7,"col":105,"value":1},{"row":7,"col":106,"value":1},{"row":7,"col":107,"value":1},{"row":7,"col":108,"value":1},{"row":7,"col":109,"value":1},
      {"row":7,"col":110,"value":1},{"row":7,"col":111,"value":1},{"row":7,"col":112,"value":1},{"row":7,"col":113,"value":0.6},{"row":7,"col":114,"value":0},{"row":7,"col":115,"value":0},{"row":7,"col":116,"value":0},{"row":7,"col":117,"value":0},{"row":7,"col":118,"value":0},{"row":7,"col":119,"value":0},
      {"row":7,"col":120,"value":1},{"row":7,"col":121,"value":0},{"row":7,"col":122,"value":0},{"row":7,"col":123,"value":0},{"row":7,"col":124,"value":0},{"row":7,"col":125,"value":1},{"row":7,"col":126,"value":0},{"row":7,"col":127,"value":0},{"row":7,"col":128,"value":0},{"row":7,"col":129,"value":0},
      {"row":7,"col":130,"value":0},{"row":7,"col":131,"value":0},{"row":7,"col":132,"value":0},{"row":7,"col":133,"value":0},{"row":7,"col":134,"value":0},{"row":7,"col":135,"value":0},{"row":7,"col":136,"value":0},{"row":7,"col":137,"value":0},{"row":7,"col":138,"value":0},{"row":7,"col":139,"value":0},
      {"row":7,"col":140,"value":0},{"row":7,"col":141,"value":0},{"row":7,"col":142,"value":0},{"row":7,"col":143,"value":0},{"row":7,"col":144,"value":0},{"row":7,"col":145,"value":0},{"row":7,"col":146,"value":0},{"row":7,"col":147,"value":0},{"row":7,"col":148,"value":0},{"row":7,"col":149,"value":0},
      {"row":7,"col":150,"value":0},{"row":7,"col":151,"value":0},{"row":7,"col":152,"value":0},{"row":7,"col":153,"value":0},{"row":7,"col":154,"value":0},{"row":7,"col":155,"value":0},{"row":7,"col":156,"value":0},{"row":7,"col":157,"value":0},{"row":7,"col":158,"value":0},{"row":7,"col":159,"value":0}
    ]
  },
  "layer": [
    {
      "mark": {"type": "rect", "strokeWidth": 0.6},
      "encoding": {
        "x": {
          "field": "col",
          "type": "ordinal",
          "scale": {"paddingInner": 0, "paddingOuter": 0},
          "axis": {
            "orient": "bottom",
            "values": [0, 20, 40, 60, 80, 100, 120, 140],
            "labelAngle": 0,
            "labelPadding": 30
          }
        },
        "y": {
          "field": "row",
          "type": "ordinal",
          "scale": {"paddingInner": 0, "paddingOuter": 0},
          "axis": {"orient": "left", "labelPadding": 32}
        },
        "color": {
          "field": "value",
          "type": "quantitative",
          "scale": {"domain": [0, 1], "range": ["#ffff66", "#008066"], "interpolate": "rgb"},
          "legend": null
        },
        "stroke": {
          "field": "value",
          "type": "quantitative",
          "scale": {"domain": [0, 1], "range": ["#ffff66", "#008066"], "interpolate": "rgb"},
          "legend": null
        }
      }
    },
    {
      "mark": {"type": "rect", "opacity": 0},
      "encoding": {
        "x": {
          "field": "col",
          "type": "ordinal",
          "axis": {
            "orient": "top",
            "values": [0, 20, 40, 60, 80, 100, 120, 140],
            "labels": false
          }
        },
        "y": {
          "field": "row",
          "type": "ordinal",
          "axis": {"orient": "right", "labels": false}
        }
      }
    }
  ],
  "resolve": {"axis": {"x": "independent", "y": "independent"}}
}
